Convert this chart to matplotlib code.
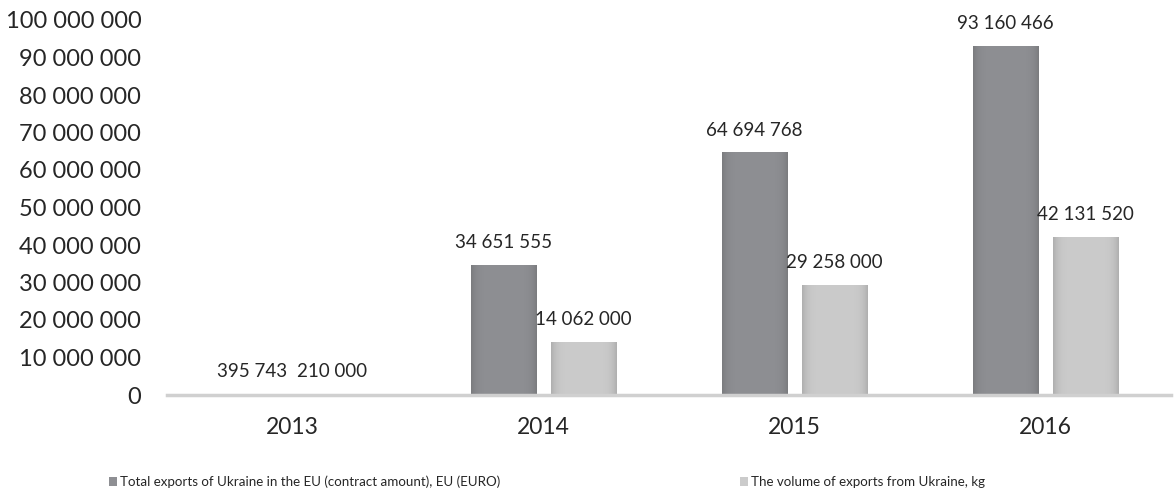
import matplotlib
matplotlib.use("Agg")
import matplotlib.pyplot as plt
import numpy as np
from matplotlib.ticker import FuncFormatter
from matplotlib.colors import to_rgb

years = ["2013", "2014", "2015", "2016"]
total_exports_euro = [395743, 34651555, 64694768, 93160466]
volume_exports_kg = [210000, 14062000, 29258000, 42131520]
series_names = ["Total exports of Ukraine in the EU (contract amount), EU (EURO)",
                "The volume of exports from Ukraine, kg"]

plt.rcParams['font.family'] = ['Lato', 'DejaVu Sans']

def fmt(v):
    return f"{int(v):,}".replace(",", " ")

fig = plt.figure(figsize=(11.74, 4.95), dpi=100)
ax = fig.add_axes([167/1174, 1-395/495, (1171-167)/1174, (395-20)/495])

x = np.arange(len(years))
w = 66/251
off = 40/251
dark = "#8e8f93"
light = "#cbcbcb"
b1 = ax.bar(x - off, total_exports_euro, w, color=dark, label=series_names[0])
b2 = ax.bar(x + off, volume_exports_kg, w, color=light, label=series_names[1])

ax.set_xlim(-0.5, 3.5)
ax.set_ylim(0, 100_000_000)

# subtle edge shading like the reference bars
t = np.linspace(0, 1, 200)
prof = 1 - 0.14 * np.abs(2 * t - 1) ** 6
for bars, col in ((b1, dark), (b2, light)):
    base = np.array(to_rgb(col))
    img = (prof[None, :, None] * base[None, None, :])
    for rect in bars:
        x0, y0 = rect.get_x(), rect.get_y()
        im = ax.imshow(img, extent=(x0, x0 + rect.get_width(), y0, y0 + rect.get_height()),
                       aspect='auto', zorder=rect.get_zorder() + 0.1, interpolation='bilinear')
        im.set_clip_path(rect)
ax.set_xlim(-0.5, 3.5)
ax.set_ylim(0, 100_000_000)

for bars, vals in ((b1, total_exports_euro), (b2, volume_exports_kg)):
    for rect, v in zip(bars, vals):
        ax.annotate(fmt(v), (rect.get_x() + rect.get_width()/2, v),
                    xytext=(0, 10), textcoords="offset points",
                    ha="center", va="bottom", fontsize=13.5, color="#262626")

ax.set_yticks(np.arange(0, 100_000_001, 10_000_000))
ax.yaxis.set_major_formatter(FuncFormatter(lambda v, p: fmt(v)))
ax.set_xticks(x)
ax.set_xticklabels(years)
ax.tick_params(axis='y', length=0, labelsize=17, pad=18.5, labelcolor="#262626")
ax.tick_params(axis='x', length=0, labelsize=16.5, pad=16, labelcolor="#262626")
for s in ("top", "right", "left"):
    ax.spines[s].set_visible(False)
ax.spines["bottom"].set_color("#d0d0d0")
ax.spines["bottom"].set_linewidth(2.5)
ax.spines["bottom"].set_zorder(5)

leg = fig.legend(handles=[b1, b2], loc="center", bbox_to_anchor=(547/1174, 1-482/495),
                 ncol=2, frameon=False, fontsize=9.6, handlelength=0.6, handleheight=0.6,
                 handletextpad=0.25, columnspacing=18)
for t_ in leg.get_texts():
    t_.set_color("#262626")

fig.savefig("out.png", dpi=100)
